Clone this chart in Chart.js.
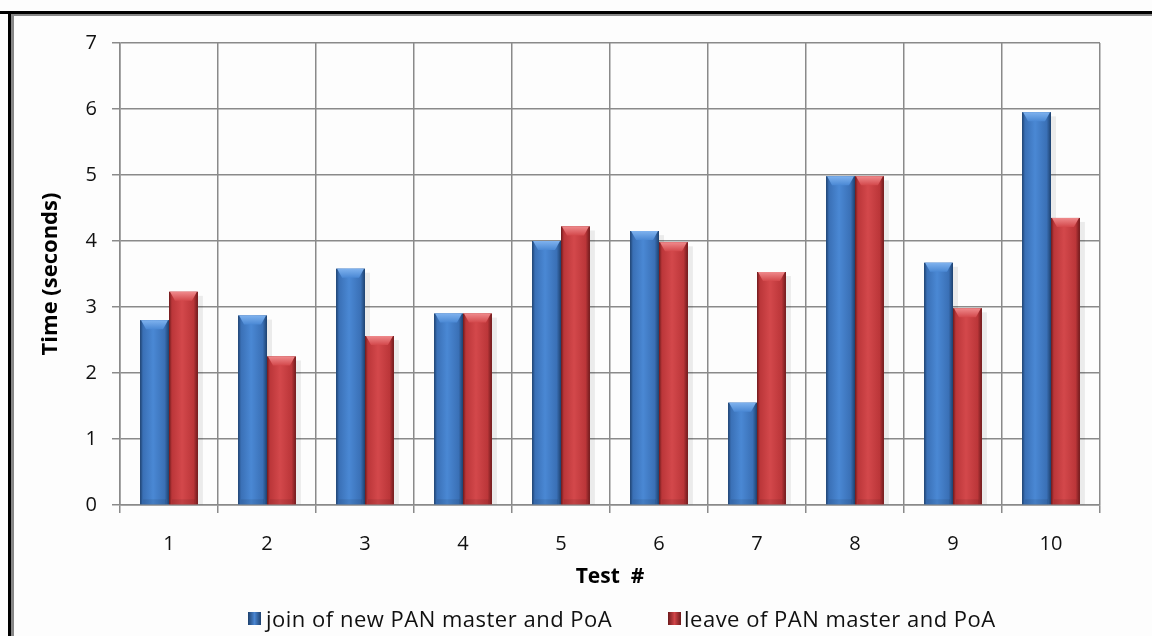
<!DOCTYPE html>
<html>
<head>
<meta charset="utf-8">
<script src="https://cdn.jsdelivr.net/npm/chart.js@4"></script>
<style>
  html, body { margin: 0; padding: 0; background: #fdfdfd; }
  #wrap { position: relative; width: 1152px; height: 636px; overflow: hidden; background: #fdfdfd; }
  #chart { position: absolute; left: 0; top: 0; }
  .frame { position: absolute; }
  #legend { position: absolute; left: 0; top: 604px; width: 1152px; font: 22px "Open Sans", sans-serif; letter-spacing: 0.5px; line-height: 28px; color: #111; }
  .item { position: absolute; top: 0; white-space: nowrap; }
  .box { position: absolute; top: 8px; width: 13px; height: 13px; }
</style>
</head>
<body>
<div id="wrap">
  <div class="frame" style="left:0;top:11px;width:1152px;height:3px;background:#000"></div>
  <div class="frame" style="left:8px;top:11px;width:3px;height:625px;background:#000"></div>
  <div class="frame" style="left:11px;top:14px;width:1141px;height:2px;background:#888"></div>
  <div class="frame" style="left:11px;top:14px;width:3px;height:622px;background:#888"></div>
  <canvas id="chart" width="1152" height="636"></canvas>
  <div id="legend">
    <span class="box" style="left:248px;background:linear-gradient(90deg,#1e416e,#4a86d2 50%,#1e416e)"></span>
    <span class="item" style="left:266px">join of new PAN master and PoA</span>
    <span class="box" style="left:668px;background:linear-gradient(90deg,#6e1a1c,#d14548 50%,#6e1a1c)"></span>
    <span class="item" style="left:684px">leave of PAN master and PoA</span>
  </div>
</div>
<script>
// values
const tests = ["1", "2", "3", "4", "5", "6", "7", "8", "9", "10"];
const join_times = [2.8, 2.87, 3.58, 2.9, 4.0, 4.15, 1.55, 4.98, 3.67, 5.95];
const leave_times = [3.23, 2.25, 2.56, 2.9, 4.22, 3.98, 3.53, 4.98, 2.98, 4.35];
const y_ticks = [0, 1, 2, 3, 4, 5, 6, 7];

const palettes = [
  { edge: "#1e416e", mid: "#3a70b6", light: "#4a88d4", cap: "#7fb2ee" },
  { edge: "#6e1a1c", mid: "#bb3639", light: "#d3484b", cap: "#ef8a8c" }
];

// glossy look for the bars, drawn over each bar element
const shine = {
  id: "shine",
  afterDatasetsDraw(chart) {
    const ctx = chart.ctx;
    chart.data.datasets.forEach((ds, i) => {
      const meta = chart.getDatasetMeta(i);
      const pal = palettes[i];
      meta.data.forEach(bar => {
        const { x, y, base, width } = bar.getProps(["x", "y", "base", "width"], true);
        const l = x - width / 2, r = x + width / 2, h = base - y;
        ctx.save();
        // soft shadow on the right
        ctx.fillStyle = "rgba(0,0,0,0.07)";
        ctx.fillRect(r, y + 4, 5, h - 4);
        const g = ctx.createLinearGradient(l, 0, r, 0);
        g.addColorStop(0, pal.edge);
        g.addColorStop(0.1, pal.mid);
        g.addColorStop(0.45, pal.light);
        g.addColorStop(0.85, pal.mid);
        g.addColorStop(1, pal.edge);
        ctx.fillStyle = g;
        ctx.fillRect(l, y, width, h);
        // top cap
        const cg = ctx.createLinearGradient(0, y, 0, y + 9);
        cg.addColorStop(0, pal.cap);
        cg.addColorStop(1, pal.light);
        ctx.fillStyle = cg;
        ctx.beginPath();
        ctx.moveTo(l + 1, y);
        ctx.lineTo(r - 1, y);
        ctx.lineTo(r - 6, y + 9);
        ctx.lineTo(l + 6, y + 9);
        ctx.closePath();
        ctx.fill();
        // bottom shade
        ctx.fillStyle = "rgba(0,0,0,0.08)";
        ctx.fillRect(l + 3, base - 5, width - 6, 5);
        ctx.restore();
      });
    });
  }
};

new Chart(document.getElementById("chart"), {
  type: "bar",
  data: {
    labels: tests,
    datasets: [
      { label: "join of new PAN master and PoA", data: join_times, backgroundColor: "#3a70b6" },
      { label: "leave of PAN master and PoA", data: leave_times, backgroundColor: "#bb3639" }
    ]
  },
  options: {
    responsive: false,
    animation: false,
    layout: { padding: { left: 30, right: 52, top: 43, bottom: 46 } },
    datasets: { bar: { barPercentage: 1, categoryPercentage: 0.59 } },
    plugins: { legend: { display: false }, tooltip: { enabled: false } },
    scales: {
      x: {
        grid: { color: "#8a8a8a", lineWidth: 1.5, offset: true, tickLength: 8 },
        border: { color: "#8a8a8a", width: 1.5 },
        ticks: { color: "#111", font: { family: "Open Sans", size: 20 }, padding: 19 },
        title: { display: true, text: "Test  #", color: "#000", font: { family: "Open Sans", size: 21, weight: "bold" }, padding: { top: 4, bottom: 0 } },
        afterFit(scale) { scale.height = 85; }
      },
      y: {
        min: 0,
        max: 7,
        grid: { color: "#8a8a8a", lineWidth: 1.5, tickLength: 8 },
        border: { color: "#8a8a8a", width: 1.5 },
        afterBuildTicks(scale) { scale.ticks = y_ticks.map(v => ({ value: v })); },
        ticks: { color: "#111", font: { family: "Open Sans", size: 20 }, padding: 15 },
        title: { display: true, text: "Time (seconds)", color: "#000", font: { family: "Open Sans", size: 22, weight: "bold" }, padding: { top: 8, bottom: 0 } },
        afterFit(scale) { scale.width = 90; }
      }
    }
  },
  plugins: [shine]
});
</script>
</body>
</html>
